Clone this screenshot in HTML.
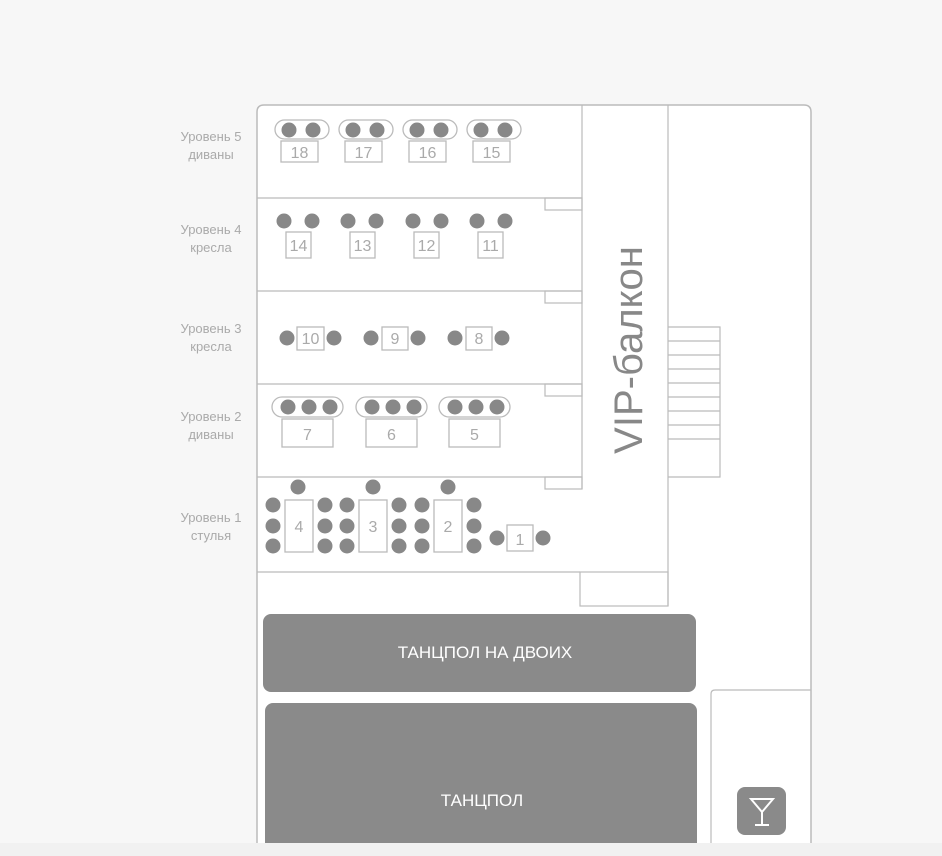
<!DOCTYPE html>
<html><head><meta charset="utf-8"><style>
html,body{margin:0;padding:0;background:#f7f7f7;}
svg{display:block;}
</style></head><body>
<svg width="942" height="856" viewBox="0 0 942 856" xmlns="http://www.w3.org/2000/svg" font-family="'Liberation Sans', sans-serif">
<rect x="0" y="0" width="942" height="856" fill="#f7f7f7"/>
<path d="M257 856 V112 Q257 105 264 105 H804 Q811 105 811 112 V856" fill="#fff" stroke="#bbb" stroke-width="1.5"/>
<g stroke="#bbb" stroke-width="1.2" fill="none">
<line x1="257" y1="198" x2="582" y2="198"/>
<line x1="257" y1="291" x2="582" y2="291"/>
<line x1="257" y1="384" x2="582" y2="384"/>
<line x1="257" y1="477" x2="582" y2="477"/>
<line x1="257" y1="572" x2="580" y2="572"/>
<line x1="582" y1="105" x2="582" y2="489"/>
<rect x="545" y="198" width="37" height="12"/>
<rect x="545" y="291" width="37" height="12"/>
<rect x="545" y="384" width="37" height="12"/>
<rect x="545" y="477" width="37" height="12"/>
<line x1="668" y1="105" x2="668" y2="606"/>
<rect x="580" y="572" width="88" height="34"/>
<polyline points="668,327 720,327 720,477 668,477"/>
<line x1="668" y1="341" x2="720" y2="341"/>
<line x1="668" y1="355" x2="720" y2="355"/>
<line x1="668" y1="369" x2="720" y2="369"/>
<line x1="668" y1="383" x2="720" y2="383"/>
<line x1="668" y1="397" x2="720" y2="397"/>
<line x1="668" y1="411" x2="720" y2="411"/>
<line x1="668" y1="425" x2="720" y2="425"/>
<line x1="668" y1="439" x2="720" y2="439"/>
<path d="M711 856 V694 Q711 690 715 690 H811"/>
</g>
<text transform="translate(642 350) rotate(-90)" text-anchor="middle" font-size="40" fill="#888">VIP-балкон</text>
<g fill="#aaa" font-size="13" text-anchor="middle">
<text x="211" y="141">Уровень 5</text><text x="211" y="159">диваны</text>
<text x="211" y="234">Уровень 4</text><text x="211" y="252">кресла</text>
<text x="211" y="333">Уровень 3</text><text x="211" y="351">кресла</text>
<text x="211" y="421">Уровень 2</text><text x="211" y="439">диваны</text>
<text x="211" y="522">Уровень 1</text><text x="211" y="540">стулья</text>
</g>
<g stroke="#bbb" stroke-width="1.3" fill="#fff">
<rect x="275" y="120" width="54" height="19" rx="9.5"/>
<rect x="339" y="120" width="54" height="19" rx="9.5"/>
<rect x="403" y="120" width="54" height="19" rx="9.5"/>
<rect x="467" y="120" width="54" height="19" rx="9.5"/>
<rect x="281" y="141" width="37" height="21"/>
<rect x="345" y="141" width="37" height="21"/>
<rect x="409" y="141" width="37" height="21"/>
<rect x="473" y="141" width="37" height="21"/>
<rect x="286" y="232" width="25" height="26"/>
<rect x="350" y="232" width="25" height="26"/>
<rect x="414" y="232" width="25" height="26"/>
<rect x="478" y="232" width="25" height="26"/>
<rect x="297" y="327" width="27" height="23"/>
<rect x="382" y="327" width="26" height="23"/>
<rect x="466" y="327" width="26" height="23"/>
<rect x="272" y="397" width="71" height="20" rx="10"/>
<rect x="356" y="397" width="71" height="20" rx="10"/>
<rect x="439" y="397" width="71" height="20" rx="10"/>
<rect x="282" y="419" width="51" height="28"/>
<rect x="366" y="419" width="51" height="28"/>
<rect x="449" y="419" width="51" height="28"/>
<rect x="285" y="500" width="28" height="52"/>
<rect x="359" y="500" width="28" height="52"/>
<rect x="434" y="500" width="28" height="52"/>
<rect x="507" y="525" width="26" height="26"/>
</g>
<g fill="#888">
<circle cx="289" cy="130" r="7.5"/><circle cx="313" cy="130" r="7.5"/>
<circle cx="353" cy="130" r="7.5"/><circle cx="377" cy="130" r="7.5"/>
<circle cx="417" cy="130" r="7.5"/><circle cx="441" cy="130" r="7.5"/>
<circle cx="481" cy="130" r="7.5"/><circle cx="505" cy="130" r="7.5"/>
<circle cx="284" cy="221" r="7.5"/><circle cx="312" cy="221" r="7.5"/>
<circle cx="348" cy="221" r="7.5"/><circle cx="376" cy="221" r="7.5"/>
<circle cx="413" cy="221" r="7.5"/><circle cx="441" cy="221" r="7.5"/>
<circle cx="477" cy="221" r="7.5"/><circle cx="505" cy="221" r="7.5"/>
<circle cx="287" cy="338" r="7.5"/><circle cx="334" cy="338" r="7.5"/>
<circle cx="371" cy="338" r="7.5"/><circle cx="418" cy="338" r="7.5"/>
<circle cx="455" cy="338" r="7.5"/><circle cx="502" cy="338" r="7.5"/>
<circle cx="288" cy="407" r="7.5"/><circle cx="309" cy="407" r="7.5"/><circle cx="330" cy="407" r="7.5"/>
<circle cx="372" cy="407" r="7.5"/><circle cx="393" cy="407" r="7.5"/><circle cx="414" cy="407" r="7.5"/>
<circle cx="455" cy="407" r="7.5"/><circle cx="476" cy="407" r="7.5"/><circle cx="497" cy="407" r="7.5"/>
<circle cx="298" cy="487" r="7.5"/><circle cx="373" cy="487" r="7.5"/><circle cx="448" cy="487" r="7.5"/>
<circle cx="273" cy="505" r="7.5"/><circle cx="273" cy="526" r="7.5"/><circle cx="273" cy="546" r="7.5"/>
<circle cx="325" cy="505" r="7.5"/><circle cx="325" cy="526" r="7.5"/><circle cx="325" cy="546" r="7.5"/>
<circle cx="347" cy="505" r="7.5"/><circle cx="347" cy="526" r="7.5"/><circle cx="347" cy="546" r="7.5"/>
<circle cx="399" cy="505" r="7.5"/><circle cx="399" cy="526" r="7.5"/><circle cx="399" cy="546" r="7.5"/>
<circle cx="422" cy="505" r="7.5"/><circle cx="422" cy="526" r="7.5"/><circle cx="422" cy="546" r="7.5"/>
<circle cx="474" cy="505" r="7.5"/><circle cx="474" cy="526" r="7.5"/><circle cx="474" cy="546" r="7.5"/>
<circle cx="497" cy="538" r="7.5"/><circle cx="543" cy="538" r="7.5"/>
</g>
<g fill="#aaa" font-size="16" text-anchor="middle">
<text x="299.5" y="158">18</text><text x="363.5" y="158">17</text><text x="427.5" y="158">16</text><text x="491.5" y="158">15</text>
<text x="298.5" y="251">14</text><text x="362.5" y="251">13</text><text x="426.5" y="251">12</text><text x="490.5" y="251">11</text>
<text x="310.5" y="344">10</text><text x="395" y="344">9</text><text x="479" y="344">8</text>
<text x="307.5" y="440">7</text><text x="391.5" y="440">6</text><text x="474.5" y="440">5</text>
<text x="299" y="532">4</text><text x="373" y="532">3</text><text x="448" y="532">2</text><text x="520" y="545">1</text>
</g>
<rect x="263" y="614" width="433" height="78" rx="8" fill="#8a8a8a"/>
<text x="485" y="658" text-anchor="middle" font-size="17" fill="#fff">ТАНЦПОЛ НА ДВОИХ</text>
<rect x="265" y="703" width="432" height="170" rx="8" fill="#8a8a8a"/>
<text x="482" y="806" text-anchor="middle" font-size="17" fill="#fff">ТАНЦПОЛ</text>
<rect x="737" y="787" width="49" height="48" rx="8" fill="#8a8a8a"/>
<g stroke="#fff" stroke-width="2" fill="none">
<path d="M751 799 H773 L762 812 Z"/><line x1="762" y1="812" x2="762" y2="824"/><line x1="755" y1="825" x2="769" y2="825"/>
</g>
<rect x="0" y="843" width="942" height="13" fill="#f1f1f1"/>
</svg>
</body></html>
